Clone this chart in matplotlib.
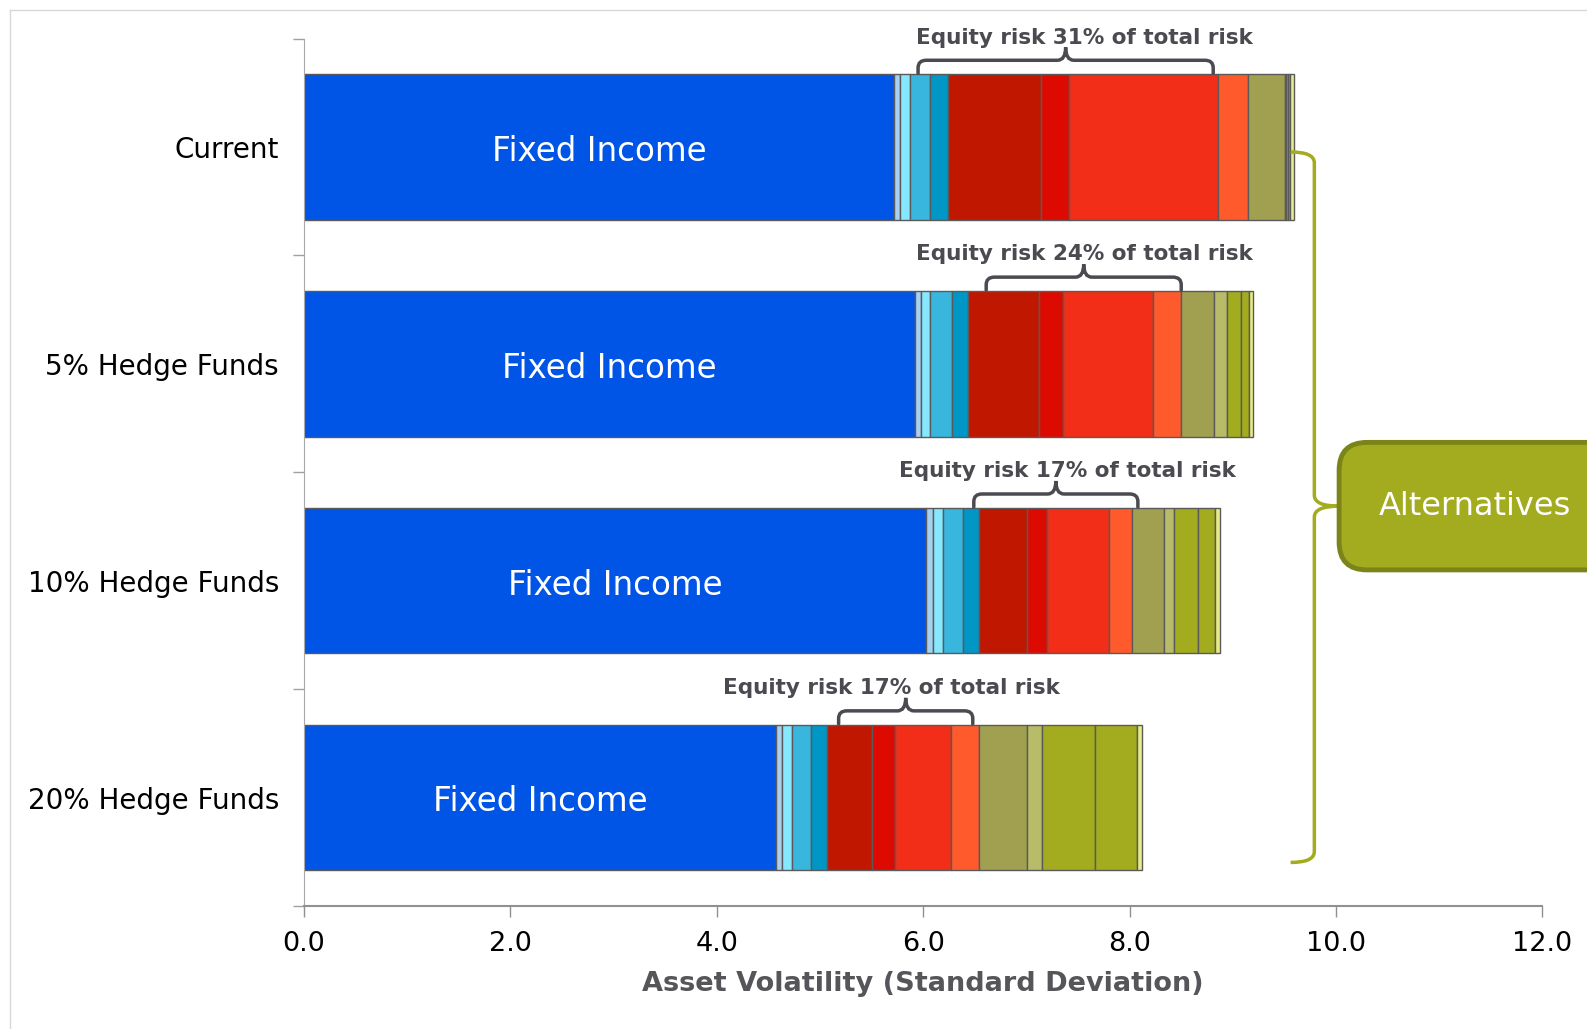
import numpy as np
import matplotlib.pyplot as plt
from matplotlib.path import Path
from matplotlib.patches import PathPatch, FancyBboxPatch

# categories (top to bottom)
portfolios = ['Current', '5% Hedge Funds', '10% Hedge Funds', '20% Hedge Funds']

# segment widths per portfolio, left to right
current = [5.72, 0.05, 0.10, 0.20, 0.17, 0.90, 0.27, 1.45, 0.29, 0.36, 0.01, 0.01, 0.02, 0.04]
hf5 = [5.92, 0.06, 0.09, 0.21, 0.15, 0.69, 0.23, 0.88, 0.27, 0.32, 0.12, 0.14, 0.08, 0.04]
hf10 = [6.03, 0.06, 0.10, 0.20, 0.15, 0.47, 0.19, 0.60, 0.22, 0.31, 0.10, 0.23, 0.17, 0.05]
hf20 = [4.57, 0.06, 0.10, 0.18, 0.16, 0.43, 0.23, 0.54, 0.27, 0.47, 0.14, 0.51, 0.41, 0.05]

seg_colors = ['#0055E6', '#A8D0F0', '#86E8FF', '#38B6DE', '#0096C6',
              '#C01800', '#DC0A00', '#F22E18', '#FF5A2C',
              '#A0A050', '#B8BC68', '#A2AC1E', '#A2AC1E', '#E8EC88']

# equity brackets (start, end) and labels
eq_start = [5.95, 6.61, 6.49, 5.18]
eq_end = [8.81, 8.50, 8.08, 6.48]
eq_text_x = [7.56, 7.56, 7.40, 5.69]
eq_labels = ['Equity risk 31% of total risk', 'Equity risk 24% of total risk',
             'Equity risk 17% of total risk', 'Equity risk 17% of total risk']

data = [current, hf5, hf10, hf20]
ypos = [3, 2, 1, 0]
bar_h = 0.67

fig = plt.figure(figsize=(15.87, 10.29), dpi=100)
ax = fig.add_axes([0.1916, 0.1195, 0.7803, 0.843])

for vals, y in zip(data, ypos):
    left = 0.0
    for w, c in zip(vals, seg_colors):
        ax.barh(y, w, left=left, height=bar_h, color=c, edgecolor='#5A5A5A', linewidth=1.0)
        left += w
    ax.text(vals[0] / 2, y - 0.02, 'Fixed Income', color='white', fontsize=23.5,
            ha='center', va='center')

# equity brackets
dark = '#4A4A50'
rx, ry, tip = 0.08, 0.035, 0.06
for y, x0, x1, tx, lab in zip(ypos, eq_start, eq_end, eq_text_x, eq_labels):
    top = y + bar_h / 2
    h = top + 0.065
    xm = (x0 + x1) / 2
    verts = [(x0, top + 0.005), (x0, h - ry), (x0, h), (x0 + rx, h),
             (xm - rx, h), (xm, h), (xm, h + tip), (xm, h), (xm + rx, h),
             (x1 - rx, h), (x1, h), (x1, h - ry), (x1, top + 0.005)]
    codes = [Path.MOVETO, Path.LINETO, Path.CURVE3, Path.CURVE3,
             Path.LINETO, Path.CURVE3, Path.CURVE3, Path.CURVE3, Path.CURVE3,
             Path.LINETO, Path.CURVE3, Path.CURVE3, Path.LINETO]
    ax.add_patch(PathPatch(Path(verts, codes), fill=False, edgecolor=dark,
                           linewidth=2.5, clip_on=False, capstyle='round'))
    ax.text(tx, top + 0.17, lab, color=dark, fontsize=15.5, fontweight='bold',
            ha='center', va='center', clip_on=False)

# alternatives brace
green = '#A2AC1E'
bx0, bx1, bxt = 9.56, 9.79, 10.03
yt, ym, yb = 2.977, 1.344, -0.299
verts = [(bx0, yt), (bx1, yt), (bx1, yt - 0.05), (bx1, ym + 0.05),
         (bx1, ym), (bxt, ym), (bx1, ym), (bx1, ym - 0.05),
         (bx1, yb + 0.05), (bx1, yb), (bx0, yb)]
codes = [Path.MOVETO, Path.CURVE3, Path.CURVE3, Path.LINETO,
         Path.CURVE3, Path.CURVE3, Path.CURVE3, Path.CURVE3,
         Path.LINETO, Path.CURVE3, Path.CURVE3]
ax.add_patch(PathPatch(Path(verts, codes), fill=False, edgecolor=green,
                       linewidth=2.5, clip_on=False))

box = FancyBboxPatch((10.03, 1.05), 2.8, 0.588,
                     boxstyle='round,pad=0,rounding_size=0.27',
                     mutation_aspect=0.476, facecolor=green, edgecolor='#7A8418',
                     linewidth=3.5, clip_on=False, zorder=5)
ax.add_patch(box)
ax.text(11.35, 1.344, 'Alternatives', color='white', fontsize=23,
        ha='center', va='center', zorder=6, clip_on=False)

# axes styling
ax.set_xlim(0, 12)
ax.set_ylim(-0.5, 3.5)
ax.set_xticks(np.arange(0, 12.1, 2))
ax.set_xticklabels(['%.1f' % v for v in np.arange(0, 12.1, 2)], fontsize=19.5)
ax.set_yticks(ypos)
ax.set_yticklabels(portfolios, fontsize=20)
ax.set_yticks([-0.5, 0.5, 1.5, 2.5, 3.5], minor=True)
ax.tick_params(axis='y', which='major', length=0, pad=18)
ax.tick_params(axis='y', which='minor', length=8, color='#A0A0A0', width=1)
ax.tick_params(axis='x', length=8, color='#909090', width=1, pad=10)
for s in ['top', 'right']:
    ax.spines[s].set_visible(False)
ax.spines['left'].set_color('#A8A8A8')
ax.spines['bottom'].set_color('#909090')
ax.spines['bottom'].set_linewidth(1.5)
ax.set_xlabel('Asset Volatility (Standard Deviation)', fontsize=19.5,
              fontweight='bold', color='#55555A', labelpad=10)

# light frame
fig.add_artist(plt.Line2D([0.0064, 0.0064], [0, 0.99], transform=fig.transFigure,
                          color='#D8D8D8', linewidth=1))
fig.add_artist(plt.Line2D([0.0064, 1], [0.99, 0.99], transform=fig.transFigure,
                          color='#D8D8D8', linewidth=1))

plt.savefig('out.png', dpi=100)
